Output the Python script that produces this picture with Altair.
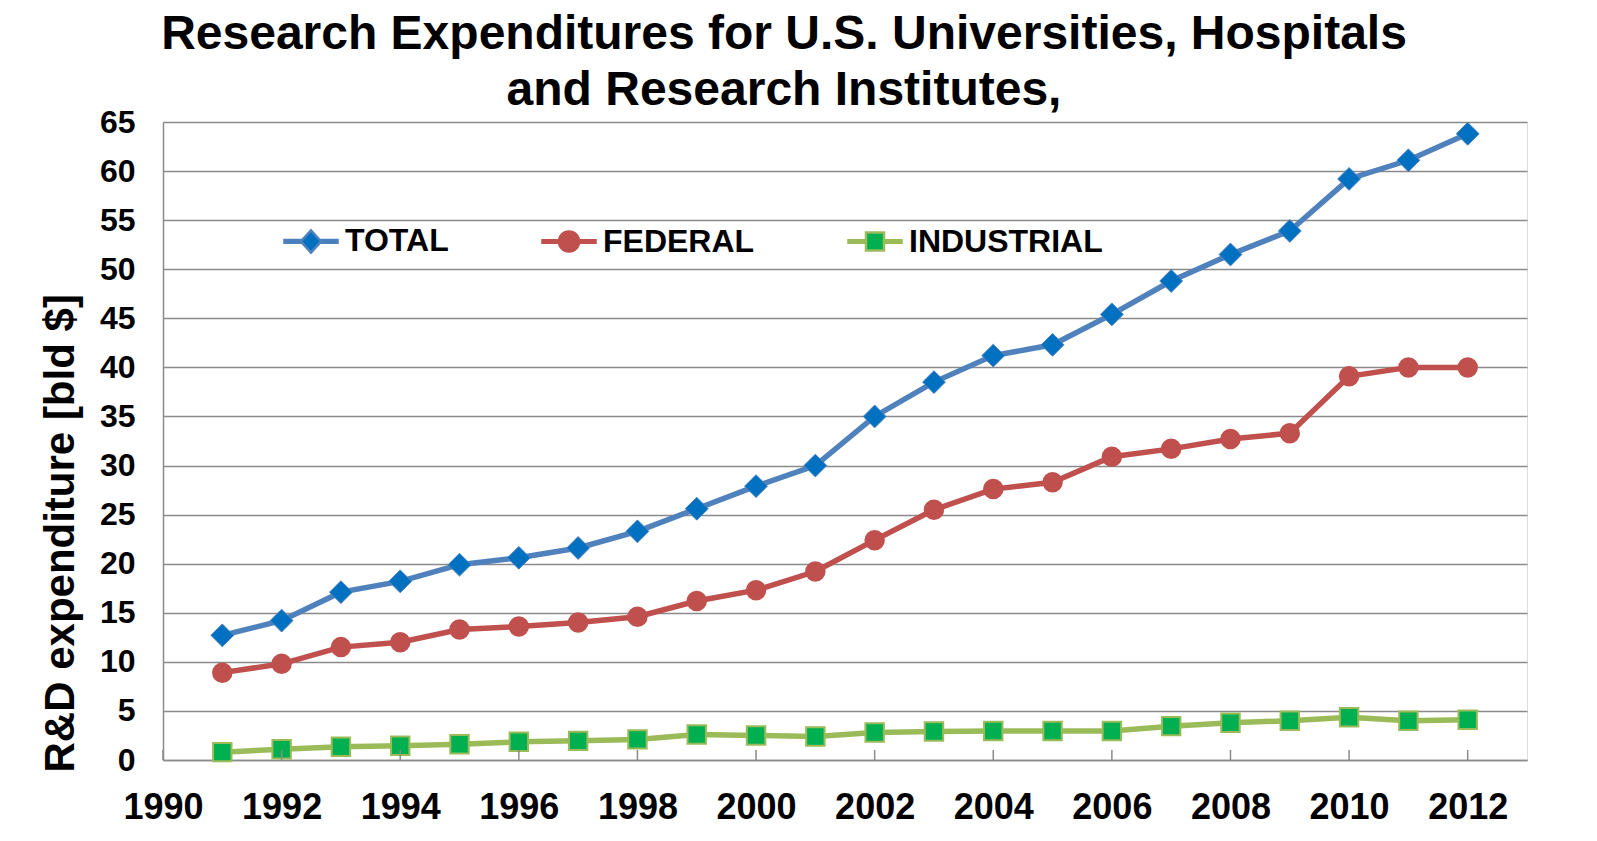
import altair as alt
import pandas as pd

# ---------------- data ----------------
years = list(range(1991, 2013))
total = [12.7, 14.2, 17.1, 18.2, 19.9, 20.6, 21.6, 23.3, 25.6, 27.9, 30.0,
         35.0, 38.5, 41.2, 42.3, 45.4, 48.8, 51.5, 53.9, 59.2, 61.1, 63.8]
federal = [8.9, 9.8, 11.5, 12.0, 13.3, 13.6, 14.0, 14.6, 16.2, 17.3, 19.2,
           22.4, 25.5, 27.6, 28.3, 30.9, 31.7, 32.7, 33.3, 39.1, 40.0, 40.0]
industrial = [0.8, 1.1, 1.35, 1.45, 1.6, 1.85, 1.95, 2.1, 2.6, 2.5, 2.4,
              2.8, 2.9, 2.95, 2.95, 2.95, 3.45, 3.8, 4.0, 4.35, 4.0, 4.1]

series_names = ["TOTAL", "FEDERAL", "INDUSTRIAL"]
line_colors = ["#4F81BD", "#C0504D", "#9BBB59"]
marker_colors = ["#0070C0", "#C0504D", "#00B050"]
x_ticks = list(range(1990, 2013, 2))
y_ticks = list(range(0, 66, 5))

title_lines = ["Research Expenditures for U.S. Universities, Hospitals",
               "and Research Institutes,"]
y_title = "R&D expenditure [bld $]"

rows = []
for name, vals in zip(series_names, [total, federal, industrial]):
    for yr, v in zip(years, vals):
        rows.append({"year": yr, "value": v, "series": name})
df = pd.DataFrame(rows)
ticks_df = pd.DataFrame({"year": x_ticks})

# ---------------- styling ----------------
W, H = 1364, 638
GRID = "#8a8a8a"
FONT = "Liberation Sans"

x_scale = alt.Scale(domain=[1990, 2013], nice=False, zero=False)
y_scale = alt.Scale(domain=[0, 65], nice=False)
stroke_scale = alt.Scale(domain=series_names, range=line_colors)
fill_scale = alt.Scale(domain=series_names, range=marker_colors)

bar_l = "M-1,-0.05L-0.36,-0.05L-0.36,0.05L-1,0.05Z"
bar_r = "M0.36,-0.05L1,-0.05L1,0.05L0.36,0.05Z"
legend_paths = [
    bar_l + bar_r + "M-0.38,0L0,-0.42L0.38,0L0,0.42Z",
    bar_l + bar_r + "M-0.38,0A0.38,0.38 0 1,1 0.38,0A0.38,0.38 0 1,1 -0.38,0Z",
    bar_l + bar_r + "M-0.34,-0.34L0.34,-0.34L0.34,0.34L-0.34,0.34Z",
]
shape_scale = alt.Scale(domain=series_names, range=legend_paths)

x_axis = alt.Axis(values=x_ticks, format="d", grid=False, ticks=False, tickSize=0,
                  labelPadding=30, labelFontSize=36, labelFont=FONT,
                  labelFontWeight="bold", labelColor="black", labelFlush=False,
                  labelOverlap=False, domainColor=GRID, domainWidth=1.5, title=None)
y_axis = alt.Axis(values=y_ticks, grid=True, gridColor=GRID, gridWidth=1.5,
                  ticks=False, tickSize=0, labelPadding=28, labelFontSize=32,
                  labelFont=FONT, labelFontWeight="bold", labelColor="black",
                  labelFlush=False, labelOverlap=False,
                  domainColor=GRID, domainWidth=1.5,
                  title=y_title, titleFont=FONT, titleFontSize=42,
                  titleFontWeight="bold", titleColor="black", titleAngle=270,
                  titleAlign="left", titleBaseline="middle",
                  titleX=-103, titleY=650)

legend = alt.Legend(title=None, orient="none", legendX=120, legendY=91,
                    direction="horizontal", padding=0, columnPadding=88,
                    labelFont=FONT, labelFontSize=32,
                    labelFontWeight="bold", labelColor="black", labelOffset=6,
                    labelLimit=600, symbolSize=2809, symbolStrokeWidth=2.5,
                    symbolOpacity=1)

base = alt.Chart(df).encode(
    x=alt.X("year:Q", scale=x_scale, axis=x_axis),
    y=alt.Y("value:Q", scale=y_scale, axis=y_axis),
)

lines = base.mark_line(strokeWidth=5.5).encode(
    stroke=alt.Stroke("series:N", scale=stroke_scale, legend=None)
)

point_layers = []
for name, shape, size, sw in zip(series_names, ["diamond", "circle", "square"],
                                 [520, 420, 340], [1, 0, 2]):
    point_layers.append(
        base.transform_filter(alt.datum.series == name)
        .mark_point(shape=shape, size=size, filled=True, opacity=1, strokeWidth=sw)
        .encode(
            fill=alt.Fill("series:N", scale=fill_scale, legend=None),
            stroke=alt.Stroke("series:N", scale=stroke_scale, legend=None),
        )
    )

legend_layer = base.mark_point(filled=True, opacity=0, size=2809).encode(
    shape=alt.Shape("series:N", scale=shape_scale, legend=legend),
    fill=alt.Fill("series:N", scale=fill_scale, legend=legend),
    stroke=alt.Stroke("series:N", scale=stroke_scale, legend=legend),
)

x_ticks_layer = alt.Chart(ticks_df).mark_rule(color=GRID, strokeWidth=1.5).encode(
    x=alt.X("year:Q", scale=x_scale, axis=x_axis),
    y=alt.value(H),
    y2=alt.value(H - 10),
)

chart = alt.layer(lines, *point_layers, x_ticks_layer, legend_layer).resolve_legend(
    fill="independent", stroke="independent", shape="independent"
).properties(
    width=W,
    height=H,
    title=alt.Title(text=title_lines, fontSize=48, font=FONT, fontWeight="bold",
                    color="black", anchor="middle", dx=-61, offset=-9,
                    lineHeight=56, frame="group"),
    autosize=alt.AutoSizeParams(type="none"),
    padding={"left": 155, "top": 114, "right": 60, "bottom": 70},
).configure_view(stroke=None).configure(background="white")

chart.save("out.html", embed_options={"renderer": "svg", "actions": False})
